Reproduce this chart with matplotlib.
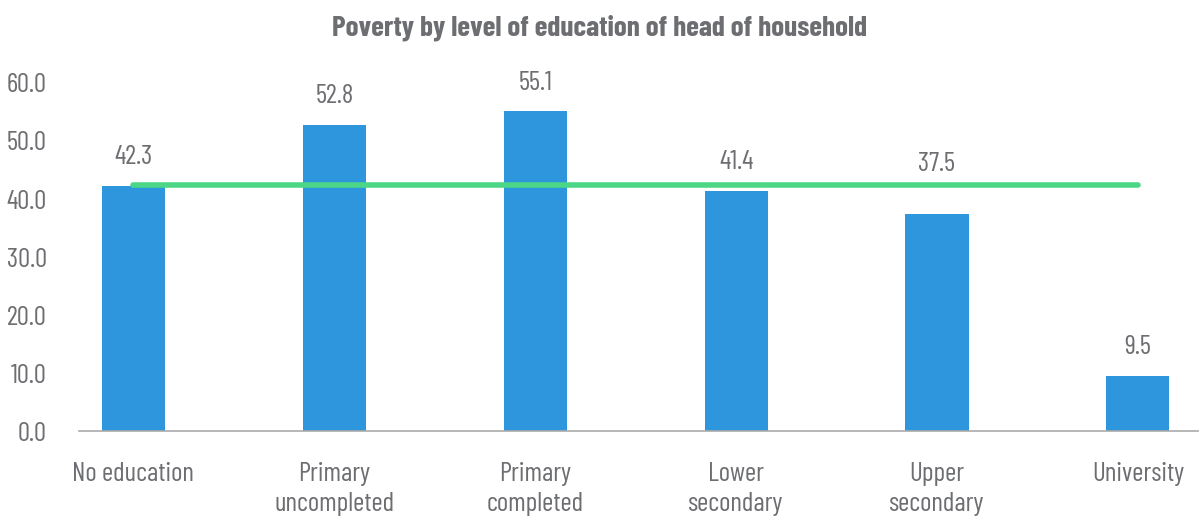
import numpy as np
import matplotlib
matplotlib.use('Agg')
import matplotlib.pyplot as plt

categories = ["No education", "Primary\nuncompleted", "Primary\ncompleted",
              "Lower\nsecondary", "Upper\nsecondary", "University"]
poverty = [42.3, 52.8, 55.1, 41.4, 37.5, 9.5]
national_avg = 42.5

GREY = "#6d6e71"
BLUE = "#2e96dc"
GREEN = "#4cd787"

plt.rcParams['font.family'] = ['Barlow Condensed', 'DejaVu Sans']

fig = plt.figure(figsize=(12, 5.21), dpi=100)
ax = fig.add_axes([0.0658, 0.1727, 0.9325, 0.668])

x = np.arange(len(categories))
ax.bar(x, poverty, width=0.314, color=BLUE, zorder=2)
ax.plot([x[0], x[-1]], [national_avg, national_avg], color=GREEN, lw=4,
        solid_capstyle='round', zorder=3)

# label offsets in points; upper secondary sits above the average line
offsets = [12, 12, 12, 12, 27, 12]
for xi, v, off in zip(x, poverty, offsets):
    ax.annotate(f"{v:.1f}", (xi, v), xytext=(0, off), textcoords='offset points',
                ha='center', va='bottom', fontsize=19.5, color=GREY)

ax.set_xlim(-0.271, 5.299)
ax.set_ylim(0, 60)
ax.set_yticks(np.arange(0, 61, 10))
ax.set_yticklabels([f"{t:.1f}" for t in np.arange(0, 61, 10)])
ax.set_xticks(x)
ax.set_xticklabels(categories, linespacing=1.34)
ax.tick_params(axis='both', length=0, labelsize=19.5, colors=GREY)
ax.tick_params(axis='y', pad=23)
ax.tick_params(axis='x', pad=22)
for s in ['top', 'right', 'left']:
    ax.spines[s].set_visible(False)
ax.spines['bottom'].set_color('#aaaaaa')
ax.spines['bottom'].set_linewidth(1.2)

fig.text(0.5, 0.946, "Poverty by level of education of head of household",
         ha='center', va='center', fontsize=21, fontweight='bold', color=GREY)

fig.savefig("out.png", dpi=100)
